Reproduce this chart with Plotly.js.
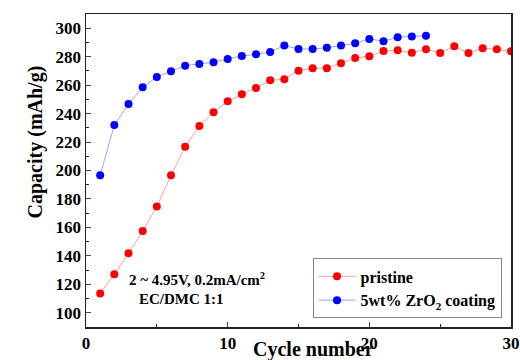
<!DOCTYPE html>
<html>
<head>
<meta charset="utf-8">
<script src="https://cdn.plot.ly/plotly-3.0.1.min.js"></script>
<style>html,body{margin:0;padding:0;background:#fff;}#chart{width:520px;height:360px;}</style>
</head>
<body>
<div id="chart"></div>
<script>
const cyclesPristine = [1,2,3,4,5,6,7,8,9,10,11,12,13,14,15,16,17,18,19,20,21,22,23,24,25,26,27,28,29,30];
const capPristine = [113.5,127.1,141.9,157.4,174.7,196.6,216.7,231.2,240.9,248.6,253.6,258.0,263.4,264.1,270.1,271.9,271.9,275.4,279.1,280.3,284.0,284.5,282.8,285.2,282.6,287.3,282.6,285.9,285.2,283.8];
const cyclesCoated = [1,2,3,4,5,6,7,8,9,10,11,12,13,14,15,16,17,18,19,20,21,22,23,24];
const capCoated = [196.6,232.0,246.7,258.5,265.7,269.7,273.7,274.9,276.1,278.4,280.5,281.7,283.3,287.8,285.4,285.4,286.3,287.8,289.4,292.5,290.9,293.7,294.1,294.8];
const yTickVals = [100,120,140,160,180,200,220,240,260,280,300];
const xTickVals = [0,10,20,30];
const seriesNames = ["pristine", "5wt% ZrO<sub>2</sub> coating"];
const xTitle = "Cycle number";
const yTitle = "Capacity (mAh/g)";
const noteLines = ["2 ~ 4.95V, 0.2mA/cm<sup>2</sup>", "EC/DMC 1:1"];

const serif = "Liberation Serif, Times New Roman, serif";

const traces = [
  {x: cyclesPristine, y: capPristine, name: seriesNames[0], type: "scatter", mode: "lines+markers",
   line: {color: "rgba(255,80,80,0.55)", width: 1},
   marker: {color: "#ff0000", size: 8}},
  {x: cyclesCoated, y: capCoated, name: seriesNames[1], type: "scatter", mode: "lines+markers",
   line: {color: "rgba(80,80,255,0.55)", width: 1},
   marker: {color: "#0000ff", size: 8}}
];

const layout = {
  width: 520, height: 360,
  margin: {l: 86, r: 9, t: 14, b: 33},
  paper_bgcolor: "#fff", plot_bgcolor: "#fff",
  font: {family: serif, size: 13, color: "#000", weight: "bold"},
  showlegend: true,
  legend: {x: 0.533, y: 0.219, xanchor: "left", yanchor: "top",
    bordercolor: "#888", borderwidth: 1, bgcolor: "#fff",
    font: {family: serif, size: 16, color: "#000", weight: "bold"},
    tracegroupgap: 0, itemwidth: 37},
  xaxis: {range: [0, 30], tickvals: xTickVals, ticks: "inside", ticklen: 5, tickwidth: 1,
    showgrid: false, zeroline: false, showline: true, linecolor: "#222", linewidth: 1.5, mirror: true,
    minor: {dtick: 5, ticks: "inside", ticklen: 3, tickcolor: "#222", showgrid: false},
    tickfont: {family: serif, size: 17, weight: "bold"}},
  yaxis: {range: [90, 310], tickvals: yTickVals, ticks: "inside", ticklen: 5, tickwidth: 1,
    showgrid: false, zeroline: false, showline: true, linecolor: "#222", linewidth: 1.5, mirror: true,
    minor: {dtick: 10, ticks: "inside", ticklen: 3, tickcolor: "#222", showgrid: false},
    tickfont: {family: serif, size: 17, weight: "bold"}},
  annotations: [
    {xref: "paper", yref: "paper", x: 0.5345, y: -0.072, xanchor: "center", yanchor: "middle", showarrow: false,
     text: xTitle, font: {family: serif, size: 20, weight: "bold"}},
    {xref: "paper", yref: "paper", x: -0.119, y: 0.591, xanchor: "center", yanchor: "middle", showarrow: false,
     textangle: -90, text: yTitle, font: {family: serif, size: 20, weight: "bold"}},
    {xref: "paper", yref: "paper", x: 0.0964, y: 0.152, xanchor: "left", yanchor: "middle", showarrow: false,
     text: noteLines[0], font: {family: serif, size: 15, weight: "bold"}},
    {xref: "paper", yref: "paper", x: 0.12, y: 0.088, xanchor: "left", yanchor: "middle", showarrow: false,
     text: noteLines[1], font: {family: serif, size: 15, weight: "bold"}}
  ]
};

Plotly.newPlot("chart", traces, layout, {displayModeBar: false, staticPlot: true});
</script>
</body>
</html>
